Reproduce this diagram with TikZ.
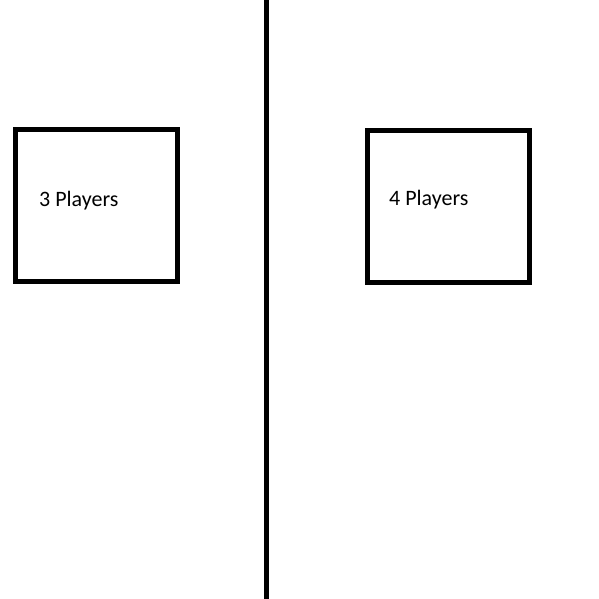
\documentclass[tikz,border=0pt]{standalone}
\usepackage{fontspec}
\setmainfont{Carlito}
\usetikzlibrary{positioning}

\begin{document}
\begin{tikzpicture}[
  x=1pt, y=-1pt,
  every node/.style={font=\fontsize{22}{26}\selectfont},
  playerbox/.style={draw=black, line width=5pt, fill=white, inner sep=0pt,
    minimum width=162pt, minimum height=152pt},
  caption/.style={anchor=base west, inner sep=0pt},
  divider/.style={draw=black, line width=5pt}
]
  \useasboundingbox[fill=white] (0,0) rectangle (599,599);

  % the two halves
  \coordinate (top) at (266.5,0);
  \coordinate (bottom) at (266.5,599);
  \draw[divider] (top) -- (bottom);

  \node[playerbox] (threebox) at (96.5,205.5) {};
  \node[playerbox] (fourbox) at (448.5,206.5) {};

  \node[caption] (three) at (39,206) {3 Players};
  \node[caption] (four) at (389,205.5) {4 Players};
\end{tikzpicture}
\end{document}
